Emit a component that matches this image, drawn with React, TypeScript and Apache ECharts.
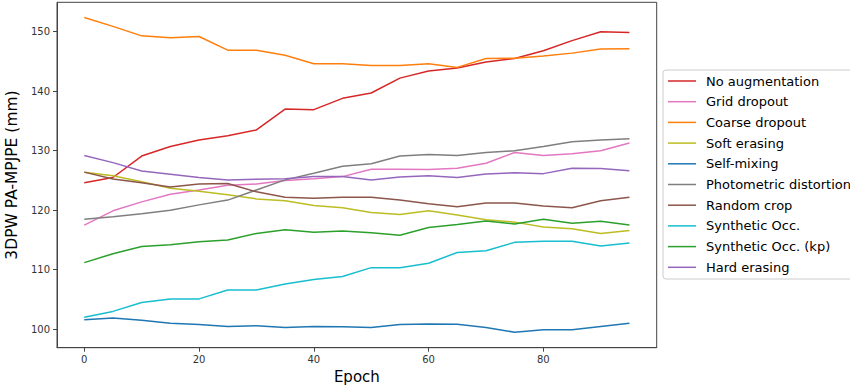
import React, { useEffect, useRef } from "react";
import * as echarts from "echarts";

const epochs = [0, 5, 10, 15, 20, 25, 30, 35, 40, 45, 50, 55, 60, 65, 70, 75, 80, 85, 90, 95];

const noAugmentation = [124.6, 125.5, 129.1, 130.7, 131.8, 132.5, 133.5, 137.0, 136.9, 138.8, 139.7, 142.2, 143.4, 143.9, 144.9, 145.5, 146.8, 148.5, 150.0, 149.85];
const gridDropout = [117.5, 119.9, 121.4, 122.7, 123.4, 124.2, 124.4, 125.0, 125.3, 125.65, 126.9, 126.9, 126.85, 127.05, 127.9, 129.7, 129.2, 129.5, 130.0, 131.3];
const coarseDropout = [152.4, 150.9, 149.3, 149.0, 149.2, 146.9, 146.9, 146.05, 144.6, 144.6, 144.3, 144.3, 144.6, 144.0, 145.5, 145.55, 145.9, 146.4, 147.1, 147.15];
const softErasing = [126.4, 125.8, 124.8, 123.7, 123.2, 122.6, 121.9, 121.6, 120.8, 120.4, 119.6, 119.3, 119.9, 119.2, 118.4, 118.0, 117.2, 116.9, 116.1, 116.6];
const selfMixing = [101.6, 101.9, 101.5, 101.0, 100.8, 100.45, 100.6, 100.3, 100.45, 100.4, 100.3, 100.8, 100.9, 100.85, 100.3, 99.5, 99.9, 99.9, 100.45, 101.0];
const photometricDistortion = [118.5, 118.9, 119.4, 120.0, 120.9, 121.7, 123.4, 125.1, 126.2, 127.4, 127.8, 129.1, 129.35, 129.2, 129.7, 130.0, 130.7, 131.5, 131.8, 132.0];
const randomCrop = [126.4, 125.26, 124.6, 123.9, 124.4, 124.5, 123.1, 122.2, 122.0, 122.2, 122.2, 121.7, 121.1, 120.6, 121.2, 121.2, 120.7, 120.4, 121.6, 122.2];
const syntheticOcc = [102.0, 103.0, 104.5, 105.1, 105.1, 106.6, 106.6, 107.6, 108.35, 108.85, 110.35, 110.35, 111.1, 112.9, 113.2, 114.6, 114.8, 114.8, 114.0, 114.5];
const syntheticOccKp = [111.2, 112.7, 113.9, 114.2, 114.7, 115.0, 116.1, 116.7, 116.3, 116.5, 116.2, 115.8, 117.1, 117.6, 118.2, 117.7, 118.5, 117.8, 118.15, 117.5];
const hardErasing = [129.2, 128.0, 126.6, 126.05, 125.5, 125.1, 125.2, 125.3, 125.65, 125.65, 125.1, 125.6, 125.8, 125.5, 126.1, 126.3, 126.15, 127.06, 127.0, 126.65];

const seriesNames = [
  "No augmentation",
  "Grid dropout",
  "Coarse dropout",
  "Soft erasing",
  "Self-mixing",
  "Photometric distortion",
  "Random crop",
  "Synthetic Occ.",
  "Synthetic Occ. (kp)",
  "Hard erasing",
];
const seriesValues = [
  noAugmentation,
  gridDropout,
  coarseDropout,
  softErasing,
  selfMixing,
  photometricDistortion,
  randomCrop,
  syntheticOcc,
  syntheticOccKp,
  hardErasing,
];
const seriesColors = [
  "#d62728",
  "#e377c2",
  "#ff7f0e",
  "#bcbd22",
  "#1f77b4",
  "#7f7f7f",
  "#8c564b",
  "#17becf",
  "#2ca02c",
  "#9467bd",
];

const xTicks = [0, 20, 40, 60, 80];
const yTicks = [100, 110, 120, 130, 140, 150];

const FONT = "DejaVu Sans";

// legend box layout (pixels)
const LEG_X = 663;
const LEG_Y = 70;
const LEG_H = 209;
const LEG_ROW0 = 81;
const LEG_STEP = 20.7;

export default function App() {
  const ref = useRef<HTMLDivElement>(null);
  useEffect(() => {
    if (!ref.current) return;
    const chart = echarts.init(ref.current, undefined, { renderer: "svg" });

    const legendChildren: any[] = [
      {
        type: "rect",
        shape: { x: LEG_X, y: LEG_Y, width: 200, height: LEG_H, r: 3 },
        style: { fill: "rgba(255,255,255,0.8)", stroke: "#cccccc", lineWidth: 1 },
      },
    ];
    seriesNames.forEach((name, i) => {
      const y = LEG_ROW0 + i * LEG_STEP;
      legendChildren.push({
        type: "line",
        shape: { x1: LEG_X + 5, y1: y, x2: LEG_X + 33, y2: y },
        style: { stroke: seriesColors[i], lineWidth: 1.5 },
      });
      legendChildren.push({
        type: "text",
        x: LEG_X + 43,
        y,
        style: {
          text: name,
          fill: "#000",
          font: `13px "${FONT}"`,
          textAlign: "left",
          textVerticalAlign: "middle",
        },
      });
    });

    chart.setOption({
      animation: false,
      backgroundColor: "#ffffff",
      textStyle: { fontFamily: FONT },
      grid: {
        left: 57,
        right: 193.3,
        top: 2.3,
        bottom: 43.3,
        show: true,
        borderColor: "#444",
        borderWidth: 1,
        outerBoundsMode: "none",
      },
      graphic: [{ type: "group", z: 100, children: legendChildren }],
      xAxis: {
        type: "value",
        min: -4.75,
        max: 99.75,
        name: "Epoch",
        nameLocation: "middle",
        nameGap: 22,
        nameTextStyle: { fontFamily: FONT, fontSize: 15, color: "#000" },
        axisLine: { show: true, onZero: false, lineStyle: { color: "#444", width: 1 } },
        axisTick: { show: true, length: 4, lineStyle: { color: "#444" }, customValues: xTicks },
        axisLabel: { fontFamily: FONT, fontSize: 10, color: "#333", margin: 7, customValues: xTicks },
        splitLine: { show: false },
      },
      yAxis: {
        type: "value",
        min: 96.9,
        max: 154.94,
        name: "3DPW PA-MPJPE (mm)",
        nameLocation: "middle",
        nameGap: 31,
        nameTextStyle: { fontFamily: FONT, fontSize: 15.5, color: "#000" },
        axisLine: { show: true, onZero: false, lineStyle: { color: "#444", width: 1 } },
        axisTick: { show: true, length: 4, lineStyle: { color: "#444" }, customValues: yTicks },
        axisLabel: { fontFamily: FONT, fontSize: 10, color: "#333", margin: 7, customValues: yTicks },
        splitLine: { show: false },
      },
      series: seriesNames.map((name, i) => ({
        name,
        type: "line",
        data: epochs.map((e, j) => [e, seriesValues[i][j]]),
        symbol: "none",
        showSymbol: false,
        color: seriesColors[i],
        lineStyle: { color: seriesColors[i], width: 1.5 },
        z: 2 + i,
      })),
    });
    return () => chart.dispose();
  }, []);
  return (
    <div
      ref={ref}
      style={{ position: "fixed", left: 0, top: 0, width: 850, height: 391 }}
    />
  );
}
